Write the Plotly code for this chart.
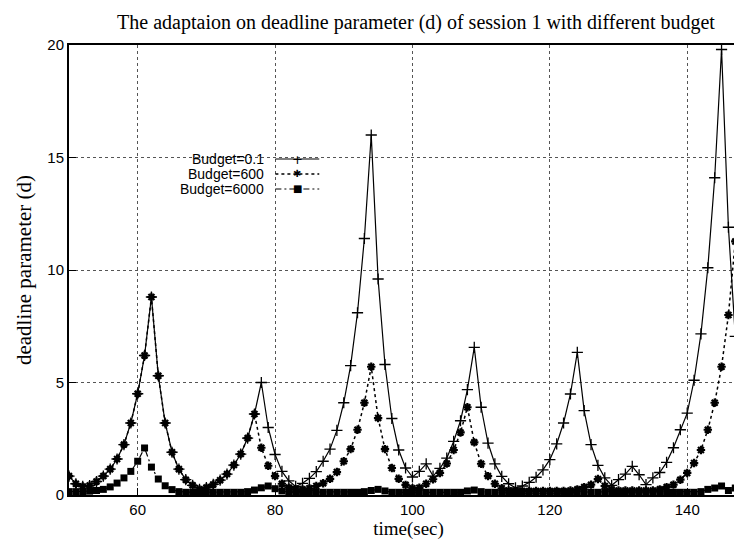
import plotly.graph_objects as go

time_sec = list(range(50, 150))

budget_01 = [0.84, 0.5, 0.38, 0.42, 0.6, 0.84, 1.15, 1.6, 2.24, 3.2,
             4.5, 6.2, 8.8, 5.3, 3.2, 1.9, 1.15, 0.68, 0.43, 0.25,
             0.33, 0.47, 0.66, 0.93, 1.33, 1.82, 2.53, 3.6, 5.0, 3.0,
             1.8, 1.05, 0.63, 0.38, 0.52, 0.74, 1.04, 1.5, 2.04, 2.87,
             4.1, 5.75, 8.1, 11.4, 16.0, 9.6, 5.8, 3.4, 2.0, 1.2,
             0.8, 1.05, 1.38, 0.84, 1.18, 1.64, 2.38, 3.3, 4.68, 6.56,
             3.9, 2.31, 1.38, 0.83, 0.5, 0.32, 0.4, 0.56, 0.79, 1.12,
             1.57, 2.27, 3.2, 4.49, 6.34, 3.75, 2.24, 1.32, 0.76, 0.43,
             0.68, 0.93, 1.27, 0.9, 0.46, 0.76, 1.0, 1.45, 2.1, 2.9,
             3.64, 5.1, 7.16, 10.1, 14.1, 19.8, 11.9, 7.05, 4.24, 2.53]

budget_600 = [0.84, 0.5, 0.38, 0.42, 0.6, 0.84, 1.15, 1.6, 2.24, 3.2,
              4.5, 6.2, 8.8, 5.3, 3.2, 1.9, 1.15, 0.68, 0.43, 0.25,
              0.33, 0.47, 0.66, 0.93, 1.33, 1.82, 2.53, 3.6, 2.1, 1.3,
              0.84, 0.5, 0.33, 0.25, 0.25, 0.3, 0.4, 0.52, 0.72, 1.02,
              1.5, 2.04, 2.9, 4.1, 5.7, 3.42, 2.04, 1.2, 0.72, 0.45,
              0.3, 0.32, 0.5, 0.7, 0.98, 1.4, 2.0, 2.78, 3.9, 2.34,
              1.39, 0.84, 0.5, 0.3, 0.2, 0.18, 0.18, 0.18, 0.18, 0.18,
              0.18, 0.18, 0.18, 0.2, 0.25, 0.35, 0.46, 0.71, 0.4, 0.25,
              0.2, 0.2, 0.2, 0.2, 0.2, 0.2, 0.25, 0.35, 0.46, 0.68,
              0.98, 1.42, 2.0, 2.9, 4.1, 5.7, 8.0, 11.27, 6.75, 4.0]

budget_6000 = [0.15, 0.15, 0.15, 0.17, 0.2, 0.25, 0.36, 0.53, 0.76, 1.05,
               1.5, 2.09, 1.24, 0.71, 0.41, 0.24, 0.15, 0.12, 0.12, 0.12,
               0.12, 0.12, 0.12, 0.12, 0.12, 0.12, 0.15, 0.22, 0.32, 0.4,
               0.28, 0.18, 0.12, 0.12, 0.12, 0.12, 0.12, 0.12, 0.12, 0.12,
               0.12, 0.12, 0.12, 0.15, 0.2, 0.25, 0.18, 0.12, 0.12, 0.12,
               0.12, 0.12, 0.12, 0.12, 0.12, 0.12, 0.12, 0.12, 0.18, 0.22,
               0.15, 0.12, 0.12, 0.12, 0.12, 0.12, 0.12, 0.12, 0.12, 0.12,
               0.12, 0.12, 0.12, 0.12, 0.12, 0.12, 0.12, 0.12, 0.12, 0.12,
               0.12, 0.12, 0.12, 0.12, 0.12, 0.12, 0.12, 0.12, 0.12, 0.12,
               0.12, 0.12, 0.15, 0.25, 0.31, 0.4, 0.2, 0.31, 0.41, 0.3]

series_names = ["Budget=0.1", "Budget=600", "Budget=6000"]
x_ticks = [60, 80, 100, 120, 140]
y_ticks = [0, 5, 10, 15, 20]

W, H = 742, 540
L, R, T, B = 61, 0, 37, 53
pw, ph = W - L - R, H - T - B

styles = [
    dict(dash="solid", symbol="cross-thin-open", size=8, lw=1.2, mlw=1.3),
    dict(dash="3px,3px", symbol="asterisk-open", size=7, lw=1.5, mlw=2.2),
    dict(dash="6px,3px,2px,3px", symbol="square", size=7, lw=1.2, mlw=0),
]
data = [budget_01, budget_600, budget_6000]

fig = go.Figure()
for name, ys, st in zip(series_names, data, styles):
    fig.add_trace(go.Scatter(
        x=time_sec, y=ys, name=name, mode="lines+markers",
        line=dict(color="black", width=st["lw"], dash=st["dash"]),
        marker=dict(symbol=st["symbol"], size=st["size"], color="black",
                    line=dict(color="black", width=st["mlw"])),
        showlegend=False, cliponaxis=True,
    ))

# manual gnuplot-style legend: text on the left, sample on the right
legend_rows_px = [151, 166, 181]
legend_marks = ["+", "\u2731", "\u25A0"]
text_right_px = 258
line_x0_px, line_x1_px = 268, 312
for name, row, st, mk in zip(series_names, legend_rows_px, styles, legend_marks):
    yp = (H - B - row) / ph
    fig.add_annotation(x=(text_right_px - L) / pw, y=yp, xref="paper", yref="paper",
                       text=name, showarrow=False, xanchor="right", yanchor="middle",
                       borderpad=0,
                       font=dict(family="Liberation Sans, Arial", size=14, color="black"))
    fig.add_shape(type="line", xref="paper", yref="paper",
                  x0=(line_x0_px - L) / pw, x1=(line_x1_px - L) / pw, y0=yp, y1=yp,
                  line=dict(color="black", width=st["lw"], dash=st["dash"]))
    fig.add_annotation(x=((line_x0_px + line_x1_px) / 2 - L) / pw, y=yp,
                       xref="paper", yref="paper", text=mk, showarrow=False,
                       xanchor="center", yanchor="middle", borderpad=0,
                       font=dict(family="DejaVu Sans", size=10 if mk != "+" else 13, color="black"))

axis_common = dict(showline=True, linecolor="black", linewidth=2, mirror=True,
                   ticks="inside", ticklen=7, tickcolor="black", tickwidth=1,
                   showgrid=True, gridcolor="#555555", griddash="dot", gridwidth=1,
                   zeroline=False,
                   tickfont=dict(family="Liberation Sans, Arial", size=15, color="black"))

serif = "Liberation Serif, Times New Roman"
fig.update_layout(
    width=W, height=H,
    margin=dict(l=L, r=R, t=T, b=B),
    paper_bgcolor="white", plot_bgcolor="white",
    title=dict(text="The adaptaion on deadline parameter (d) of session 1 with different budget",
               x=408 / W, xanchor="center", y=1 - 14 / H, yanchor="middle",
               font=dict(family=serif, size=20, color="black")),
    xaxis=dict(range=[50, 148.85], tickvals=x_ticks,
               title=dict(text="time(sec)", standoff=0,
                          font=dict(family=serif, size=19, color="black")),
               **axis_common),
    yaxis=dict(range=[0, 20], tickvals=y_ticks,
               title=dict(text="deadline parameter (d)", standoff=10,
                          font=dict(family=serif, size=21, color="black")),
               **axis_common),
)

fig.write_html("out.html")
